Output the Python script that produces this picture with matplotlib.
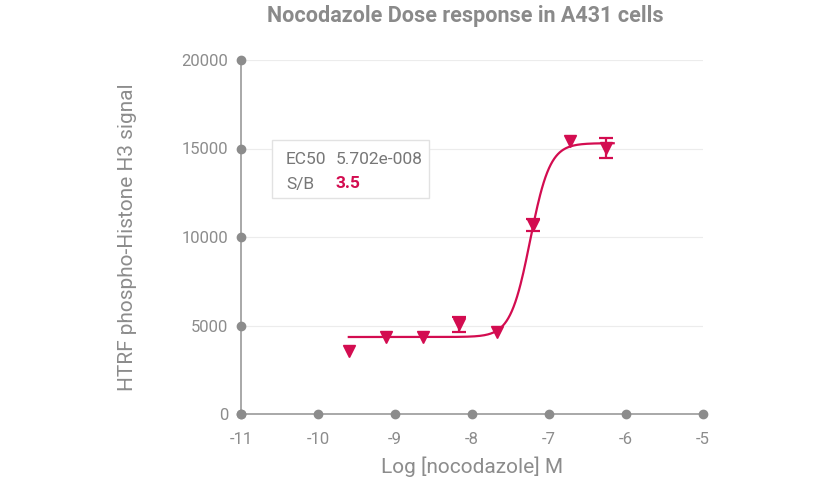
import numpy as np
import matplotlib

matplotlib.use("Agg")
import matplotlib.pyplot as plt

# measured points (log M, signal, error)
log_conc = [-9.60, -9.12, -8.64, -8.17, -7.68, -7.21, -6.73, -6.26]
signal = [3560, 4350, 4350, 5080, 4630, 10680, 15420, 15030]
signal_err = [0, 0, 0, 420, 0, 350, 0, 540]

# 4PL fit parameters
fit_bottom = 4350
fit_top = 15300
fit_log_ec50 = np.log10(5.702e-8)
fit_hill = 3.4

x_ticks = [-11, -10, -9, -8, -7, -6, -5]
y_ticks = [0, 5000, 10000, 15000, 20000]

RED = "#d30c50"
GREY = "#8c8c8c"
plt.rcParams["font.family"] = ["Roboto", "DejaVu Sans"]

fig = plt.figure(figsize=(8.2, 4.79), dpi=100)
ax = fig.add_axes([241 / 820, 1 - 414 / 479, 462 / 820, 354 / 479])

xs = np.linspace(log_conc[0], log_conc[-1] + 0.1, 300)
fit = fit_bottom + (fit_top - fit_bottom) / (1 + 10 ** ((fit_log_ec50 - xs) * fit_hill))
ax.plot(xs, fit, color=RED, lw=1.6, zorder=3)

for x, y, e in zip(log_conc, signal, signal_err):
    if e:
        ax.errorbar(x, y, yerr=e, fmt="none", ecolor=RED, elinewidth=1.6,
                    capsize=5, capthick=1.6, zorder=4)
ax.plot(log_conc, signal, linestyle="none", marker="v", markersize=8,
        color=RED, zorder=5)

ax.set_xlim(-11, -5)
ax.set_ylim(0, 20000)
for yt in y_ticks[1:]:
    ax.axhline(yt, color="#ececec", lw=0.8, zorder=0)

for side in ["top", "right"]:
    ax.spines[side].set_visible(False)
for side in ["left", "bottom"]:
    ax.spines[side].set_color("#9a9a9a")
    ax.spines[side].set_linewidth(1.2)

ax.plot(x_ticks, [0] * len(x_ticks), "o", color=GREY, markersize=6,
        clip_on=False, zorder=6)
ax.plot([-11] * len(y_ticks), y_ticks, "o", color=GREY, markersize=6,
        clip_on=False, zorder=6)

ax.set_xticks(x_ticks)
ax.set_yticks(y_ticks)
ax.tick_params(axis="y", length=0, labelsize=12, colors=GREY, pad=9)
ax.tick_params(axis="x", length=0, labelsize=12, colors=GREY, pad=13)
ax.set_xticklabels([str(t) for t in x_ticks])

ax.set_xlabel("Log [nocodazole] M", fontsize=15, color=GREY, labelpad=7)
ax.set_ylabel("HTRF phospho-Histone H3 signal", fontsize=15, color=GREY,
              labelpad=32)
fig.text(0.568, 0.99, "Nocodazole Dose response in A431 cells", ha="center",
         va="top", fontsize=15.5, fontweight="bold", color="#8a8a8a")

# EC50 box
box = matplotlib.patches.Rectangle((272 / 820, 1 - 198 / 479), 157 / 820, 58 / 479,
                                   transform=fig.transFigure, facecolor="white",
                                   edgecolor="#e2e2e2", lw=1, zorder=10)
fig.patches.append(box)
fig.text(286 / 820, 1 - 160 / 479, "EC50", fontsize=12.5, color="#777777", va="center", zorder=11)
fig.text(336 / 820, 1 - 160 / 479, "5.702e-008", fontsize=12.5, color="#777777", va="center", zorder=11)
fig.text(286 / 820, 1 - 184 / 479, "S/B", fontsize=12.5, color="#777777", va="center", zorder=11)
fig.text(336 / 820, 1 - 184 / 479, "3.5", fontsize=12.5, color=RED, va="center",
         fontweight="bold", zorder=11)

fig.savefig("out.png", dpi=100)
